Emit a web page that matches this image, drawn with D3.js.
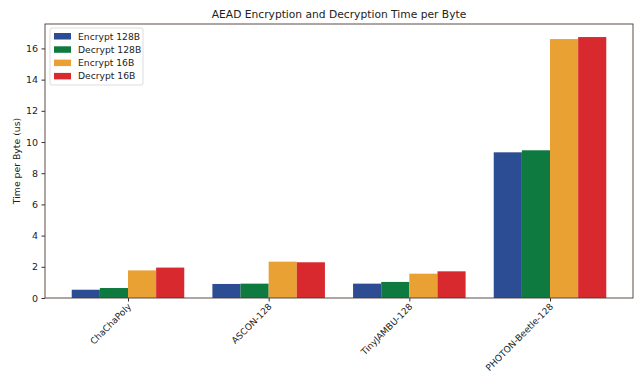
<!DOCTYPE html>
<html>
<head>
<meta charset="utf-8">
<script src="https://cdn.jsdelivr.net/npm/d3@7"></script>
<style>
  body { margin: 0; background: #fff; }
  text { font-family: "DejaVu Sans", sans-serif; fill: #222; }
</style>
</head>
<body>
<div id="chart"></div>
<script>
// data
let algorithms = ['ChaChaPoly', 'ASCON-128', 'TinyJAMBU-128', 'PHOTON-Beetle-128'];
let seriesNames = ['Encrypt 128B', 'Decrypt 128B', 'Encrypt 16B', 'Decrypt 16B'];
let encrypt128 = [0.53, 0.90, 0.92, 9.34];
let decrypt128 = [0.64, 0.92, 1.03, 9.47];
let encrypt16 = [1.77, 2.33, 1.56, 16.60];
let decrypt16 = [1.95, 2.29, 1.71, 16.73];
let yTicks = [0, 2, 4, 6, 8, 10, 12, 14, 16];

let seriesValues = [encrypt128, decrypt128, encrypt16, decrypt16];
let colors = ['#2c4c93', '#0f7a3f', '#eaa133', '#d8292f'];

let svgWidth = 635;
let svgHeight = 374;
let margin = { top: 24, right: 2, bottom: 76, left: 45 };
let width = svgWidth - margin.left - margin.right;
let height = svgHeight - margin.top - margin.bottom;

let svg = d3.select('#chart')
    .append('svg')
    .attr('width', svgWidth)
    .attr('height', svgHeight);

let chartGroup = svg.append('g')
    .attr('transform', `translate(${margin.left}, ${margin.top})`);

// matplotlib style: bars at integer positions, width 0.2 each
let barW = 0.2;
let xScale = d3.scaleLinear()
    .domain([-0.59, algorithms.length - 1 + 0.59])
    .range([0, width]);

let yMax = 16.73 * 1.05;
let yScale = d3.scaleLinear()
    .domain([0, yMax])
    .range([height, 0]);

// bars
seriesValues.forEach((vals, s) => {
    chartGroup.selectAll('.bar' + s)
        .data(vals)
        .enter()
        .append('rect')
        .attr('x', (d, i) => xScale(i + (s - 2) * barW))
        .attr('y', d => yScale(d))
        .attr('width', xScale(barW) - xScale(0))
        .attr('height', d => height - yScale(d))
        .attr('fill', colors[s]);
});

// axes
let leftAxis = d3.axisLeft(yScale)
    .tickValues(yTicks)
    .tickSize(3.5)
    .tickPadding(3.5);
let yAxis = chartGroup.append('g').call(leftAxis);
yAxis.select('.domain').remove();
yAxis.selectAll('text').style('font-size', '9.5px');
yAxis.selectAll('line').attr('stroke', '#333');

let bottomAxis = d3.axisBottom(xScale)
    .tickValues(d3.range(algorithms.length))
    .tickFormat((d, i) => algorithms[i])
    .tickSize(3.5);
let xAxis = chartGroup.append('g')
    .attr('transform', `translate(0, ${height})`)
    .call(bottomAxis);
xAxis.select('.domain').remove();
xAxis.selectAll('line').attr('stroke', '#333');
// rotated labels end at the tick, like matplotlib ha='right'
xAxis.selectAll('text')
    .style('font-size', '9px')
    .attr('text-anchor', 'end')
    .attr('x', 0)
    .attr('y', 0)
    .attr('dy', '0.35em')
    .attr('transform', 'translate(1, 7) rotate(-45)');

// frame
chartGroup.append('rect')
    .attr('width', width)
    .attr('height', height)
    .attr('fill', 'none')
    .attr('stroke', '#4a3a32')
    .attr('stroke-width', 0.9);

// title and y label
svg.append('text')
    .attr('x', margin.left + width / 2)
    .attr('y', 18)
    .attr('text-anchor', 'middle')
    .style('font-size', '10.7px')
    .text('AEAD Encryption and Decryption Time per Byte');

svg.append('text')
    .attr('transform', `translate(20, ${margin.top + height / 2}) rotate(-90)`)
    .attr('text-anchor', 'middle')
    .style('font-size', '9.3px')
    .text('Time per Byte (us)');

// legend
let legend = chartGroup.append('g')
    .attr('transform', 'translate(5, 4)');
legend.append('rect')
    .attr('width', 93)
    .attr('height', 57)
    .attr('rx', 2)
    .attr('fill', '#fff')
    .attr('stroke', '#ddd');
seriesNames.forEach((name, i) => {
    legend.append('rect')
        .attr('x', 4)
        .attr('y', 5 + i * 13.3)
        .attr('width', 17)
        .attr('height', 6.5)
        .attr('fill', colors[i]);
    legend.append('text')
        .attr('x', 28)
        .attr('y', 8.3 + i * 13.3)
        .attr('dy', '0.35em')
        .style('font-size', '9.2px')
        .text(name);
});
</script>
</body>
</html>
